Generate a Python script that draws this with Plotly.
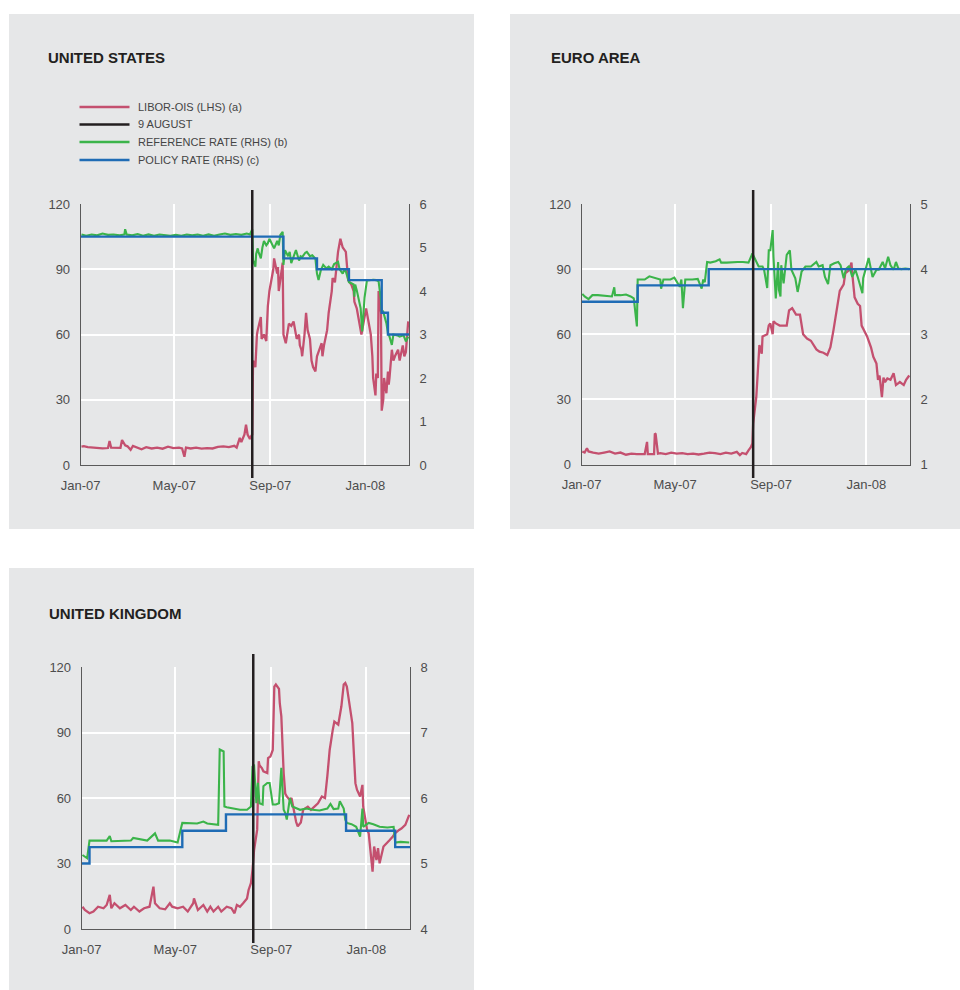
import plotly.graph_objects as go

# ---------------- DATA ----------------
tick_vals = ["2007-01-01", "2007-05-01", "2007-09-01", "2008-01-01"]
tick_text = ["Jan-07", "May-07", "Sep-07", "Jan-08"]
x_start, x_end = "2007-01-01", "2008-02-26"
aug9 = "2007-08-09"

# United States
us_libor_dates = [
    "2007-01-02", "2007-01-05", "2007-01-10", "2007-01-16", "2007-01-22", "2007-01-29", "2007-02-05", "2007-02-07", "2007-02-09", "2007-02-15",
    "2007-02-21", "2007-02-23", "2007-02-27", "2007-03-02", "2007-03-06", "2007-03-09", "2007-03-14", "2007-03-20", "2007-03-26", "2007-04-02",
    "2007-04-09", "2007-04-16", "2007-04-23", "2007-04-30", "2007-05-07", "2007-05-11", "2007-05-14", "2007-05-16", "2007-05-22", "2007-05-29",
    "2007-06-05", "2007-06-12", "2007-06-19", "2007-06-26", "2007-07-03", "2007-07-10", "2007-07-17", "2007-07-20", "2007-07-24", "2007-07-26",
    "2007-07-30", "2007-08-01", "2007-08-03", "2007-08-06", "2007-08-08", "2007-08-09", "2007-08-10", "2007-08-13", "2007-08-15", "2007-08-16",
    "2007-08-20", "2007-08-21", "2007-08-24", "2007-08-27", "2007-08-29", "2007-08-31", "2007-09-05", "2007-09-06", "2007-09-10", "2007-09-11",
    "2007-09-12", "2007-09-14", "2007-09-17", "2007-09-18", "2007-09-20", "2007-09-21", "2007-09-25", "2007-09-28", "2007-10-01", "2007-10-05",
    "2007-10-08", "2007-10-09", "2007-10-11", "2007-10-12", "2007-10-15", "2007-10-17", "2007-10-19", "2007-10-22", "2007-10-24", "2007-10-26",
    "2007-10-29", "2007-10-31", "2007-11-02", "2007-11-06", "2007-11-07", "2007-11-09", "2007-11-13", "2007-11-15", "2007-11-19", "2007-11-20",
    "2007-11-23", "2007-11-27", "2007-11-30", "2007-12-03", "2007-12-05", "2007-12-07", "2007-12-10", "2007-12-14", "2007-12-17", "2007-12-18",
    "2007-12-21", "2007-12-24", "2007-12-27", "2008-01-02", "2008-01-04", "2008-01-08", "2008-01-10", "2008-01-11", "2008-01-14", "2008-01-15",
    "2008-01-17", "2008-01-18", "2008-01-21", "2008-01-22", "2008-01-24", "2008-01-25", "2008-01-28", "2008-01-30", "2008-01-31", "2008-02-01",
    "2008-02-04", "2008-02-06", "2008-02-08", "2008-02-12", "2008-02-14", "2008-02-18", "2008-02-20", "2008-02-22", "2008-02-25",
]
us_libor_bp = [
    8.5, 8.7, 8.2, 8.0, 7.8, 7.6, 7.8, 11.0, 8.0, 7.8,
    7.9, 11.5, 9.0, 8.6, 7.0, 8.8, 8.2, 7.2, 8.2, 7.6,
    8.0, 7.5, 8.4, 7.8, 8.0, 7.6, 3.8, 8.0, 7.6, 8.0,
    7.5, 7.8, 7.6, 8.3, 8.6, 8.2, 8.8, 8.0, 12.5, 10.5,
    14.0, 18.5, 14.0, 12.0, 13.5, 14.0, 48.0, 45.0, 60.0, 62.0,
    68, 58, 60, 57, 73, 80, 90, 95, 88, 91,
    80, 85, 93, 60, 58, 56, 65, 64, 66, 58,
    60, 55, 53, 50, 60, 70, 62, 58, 48, 45,
    43, 50, 52, 56, 50, 55, 62, 70, 80, 86,
    84, 98, 104, 100, 99, 98, 85, 83, 80, 75,
    72, 65, 60, 72, 68, 60, 50, 40, 32, 42,
    40, 80, 70, 25, 30, 40, 33, 43, 37, 40,
    53, 48, 50, 53, 48, 55, 50, 52, 66,
]
us_ref_dates = [
    "2007-01-02", "2007-01-08", "2007-01-15", "2007-01-22", "2007-01-29", "2007-02-05", "2007-02-12", "2007-02-20", "2007-02-26", "2007-02-27",
    "2007-03-01", "2007-03-08", "2007-03-15", "2007-03-22", "2007-03-29", "2007-04-05", "2007-04-12", "2007-04-19", "2007-04-26", "2007-05-03",
    "2007-05-10", "2007-05-17", "2007-05-24", "2007-05-31", "2007-06-07", "2007-06-14", "2007-06-21", "2007-06-28", "2007-07-05", "2007-07-12",
    "2007-07-19", "2007-07-26", "2007-08-02", "2007-08-06", "2007-08-08", "2007-08-09", "2007-08-10", "2007-08-13", "2007-08-14", "2007-08-16",
    "2007-08-17", "2007-08-20", "2007-08-22", "2007-08-24", "2007-08-27", "2007-08-29", "2007-08-31", "2007-09-04", "2007-09-06", "2007-09-10",
    "2007-09-12", "2007-09-14", "2007-09-17", "2007-09-18", "2007-09-20", "2007-09-24", "2007-09-26", "2007-09-28", "2007-10-02", "2007-10-04",
    "2007-10-08", "2007-10-10", "2007-10-12", "2007-10-16", "2007-10-18", "2007-10-22", "2007-10-25", "2007-10-29", "2007-10-31", "2007-11-02",
    "2007-11-05", "2007-11-08", "2007-11-12", "2007-11-15", "2007-11-19", "2007-11-22", "2007-11-27", "2007-11-29", "2007-12-03", "2007-12-05",
    "2007-12-07", "2007-12-11", "2007-12-14", "2007-12-17", "2007-12-18", "2007-12-19", "2007-12-21", "2007-12-26", "2007-12-28", "2007-12-31",
    "2008-01-03", "2008-01-08", "2008-01-11", "2008-01-15", "2008-01-18", "2008-01-21", "2008-01-22", "2008-01-24", "2008-01-28", "2008-01-30",
    "2008-02-01", "2008-02-04", "2008-02-06", "2008-02-11", "2008-02-14", "2008-02-19", "2008-02-21", "2008-02-22", "2008-02-25",
]
us_ref_pct = [
    5.30, 5.27, 5.30, 5.28, 5.32, 5.29, 5.30, 5.28, 5.30, 5.42,
    5.30, 5.28, 5.31, 5.27, 5.30, 5.27, 5.30, 5.29, 5.27, 5.29,
    5.27, 5.30, 5.28, 5.30, 5.27, 5.30, 5.27, 5.30, 5.32, 5.29,
    5.31, 5.29, 5.32, 5.30, 5.36, 5.42, 4.71, 4.56, 4.85, 4.98,
    4.90, 4.75, 5.00, 5.15, 5.05, 5.10, 5.20, 5.05, 4.98, 5.15,
    5.05, 5.29, 5.36, 4.60, 4.94, 4.80, 4.90, 4.64, 4.85, 4.94,
    4.70, 4.80, 4.78, 4.88, 4.90, 4.80, 4.82, 4.74, 4.40, 4.25,
    4.48, 4.60, 4.52, 4.56, 4.50, 4.62, 4.67, 4.50, 4.40, 4.48,
    4.45, 4.20, 4.18, 4.15, 3.87, 4.15, 4.02, 3.60, 3.07, 3.85,
    4.24, 4.25, 4.26, 4.25, 4.22, 3.80, 3.49, 3.52, 3.26, 3.03,
    2.95, 2.76, 3.00, 2.98, 2.95, 2.98, 2.91, 2.84, 2.95,
]
us_policy_dates = ["2007-01-01", "2007-09-18", "2007-10-31", "2007-12-11", "2008-01-22", "2008-01-30", "2008-02-26"]
us_policy_pct = [5.25, 4.75, 4.50, 4.25, 3.50, 3.00, 3.00]

# Euro area
ea_libor_dates = [
    "2007-01-02", "2007-01-05", "2007-01-08", "2007-01-10", "2007-01-16", "2007-01-23", "2007-01-30", "2007-02-06", "2007-02-13", "2007-02-20",
    "2007-02-27", "2007-03-06", "2007-03-13", "2007-03-20", "2007-03-23", "2007-03-26", "2007-03-27", "2007-04-04", "2007-04-05", "2007-04-06",
    "2007-04-09", "2007-04-12", "2007-04-19", "2007-04-26", "2007-05-03", "2007-05-10", "2007-05-17", "2007-05-24", "2007-05-31", "2007-06-07",
    "2007-06-14", "2007-06-21", "2007-06-28", "2007-07-05", "2007-07-12", "2007-07-19", "2007-07-23", "2007-07-26", "2007-07-31", "2007-08-03",
    "2007-08-06", "2007-08-08", "2007-08-09", "2007-08-13", "2007-08-16", "2007-08-17", "2007-08-20", "2007-08-21", "2007-08-27", "2007-08-29",
    "2007-08-31", "2007-09-03", "2007-09-04", "2007-09-07", "2007-09-12", "2007-09-21", "2007-09-24", "2007-09-28", "2007-10-03", "2007-10-08",
    "2007-10-12", "2007-10-17", "2007-10-22", "2007-10-25", "2007-10-29", "2007-11-02", "2007-11-07", "2007-11-12", "2007-11-16", "2007-11-20",
    "2007-11-23", "2007-11-28", "2007-12-03", "2007-12-05", "2007-12-10", "2007-12-13", "2007-12-14", "2007-12-17", "2007-12-21", "2007-12-24",
    "2007-12-26", "2008-01-02", "2008-01-07", "2008-01-10", "2008-01-14", "2008-01-16", "2008-01-18", "2008-01-21", "2008-01-23", "2008-01-25",
    "2008-01-28", "2008-02-01", "2008-02-05", "2008-02-08", "2008-02-13", "2008-02-18", "2008-02-21", "2008-02-25",
]
ea_libor_bp = [
    6.0, 5.5, 7.5, 6.0, 5.5, 5.0, 5.5, 6.0, 5.0, 5.5,
    4.5, 5.0, 4.8, 5.0, 4.8, 10.4, 4.8, 4.8, 14.3, 14.0,
    5.0, 5.2, 4.8, 5.5, 5.0, 5.2, 4.8, 5.0, 4.6, 5.0,
    5.5, 5.2, 4.8, 5.5, 5.0, 5.8, 4.3, 5.3, 4.8, 6.5,
    8.0, 9.7, 19.0, 31.0, 54.0, 55.0, 51.0, 59.0, 60.0, 64.0,
    65.0, 60.0, 66.0, 65.0, 64.0, 64.0, 71.0, 72.0, 69.0, 69.0,
    60.0, 58.0, 57.0, 55.0, 53.0, 52.0, 51.5, 50.4, 54.0, 62.0,
    69.6, 80.0, 83.0, 88.0, 89.5, 93.0, 88.0, 77.0, 74.0, 73.0,
    64.0, 59.0, 54.0, 49.6, 46.5, 39.0, 41.0, 31.0, 40.0, 38.0,
    39.6, 39.0, 42.0, 36.6, 38.0, 36.6, 39.0, 41.0,
]
ea_ref_dates = [
    "2007-01-02", "2007-01-05", "2007-01-10", "2007-01-15", "2007-01-22", "2007-01-29", "2007-02-05", "2007-02-09", "2007-02-12", "2007-02-13",
    "2007-02-20", "2007-02-27", "2007-03-05", "2007-03-09", "2007-03-13", "2007-03-14", "2007-03-16", "2007-03-23", "2007-03-29", "2007-04-05",
    "2007-04-12", "2007-04-13", "2007-04-16", "2007-04-25", "2007-04-30", "2007-05-07", "2007-05-09", "2007-05-11", "2007-05-14", "2007-05-23",
    "2007-05-30", "2007-06-04", "2007-06-06", "2007-06-08", "2007-06-11", "2007-06-15", "2007-06-22", "2007-06-27", "2007-06-29", "2007-07-06",
    "2007-07-13", "2007-07-20", "2007-07-27", "2007-08-03", "2007-08-08", "2007-08-13", "2007-08-16", "2007-08-21", "2007-08-23", "2007-08-27",
    "2007-08-29", "2007-08-31", "2007-09-03", "2007-09-04", "2007-09-07", "2007-09-10", "2007-09-11", "2007-09-13", "2007-09-14", "2007-09-17",
    "2007-09-21", "2007-09-25", "2007-09-27", "2007-10-02", "2007-10-05", "2007-10-08", "2007-10-10", "2007-10-15", "2007-10-22", "2007-10-29",
    "2007-11-01", "2007-11-06", "2007-11-09", "2007-11-13", "2007-11-16", "2007-11-21", "2007-11-26", "2007-11-29", "2007-12-03", "2007-12-06",
    "2007-12-10", "2007-12-14", "2007-12-18", "2007-12-21", "2007-12-27", "2007-12-28", "2007-12-31", "2008-01-04", "2008-01-09", "2008-01-14",
    "2008-01-17", "2008-01-22", "2008-01-25", "2008-01-29", "2008-02-01", "2008-02-05", "2008-02-08", "2008-02-11", "2008-02-15", "2008-02-20",
    "2008-02-25",
]
ea_ref_pct = [
    3.62, 3.58, 3.54, 3.60, 3.60, 3.59, 3.58, 3.58, 3.72, 3.60,
    3.60, 3.61, 3.58, 3.55, 3.12, 3.84, 3.84, 3.84, 3.89, 3.86,
    3.84, 3.70, 3.84, 3.84, 3.87, 3.73, 3.84, 3.40, 3.84, 3.84,
    3.85, 3.70, 3.84, 3.80, 4.11, 4.10, 4.12, 4.15, 4.10, 4.10,
    4.11, 4.11, 4.11, 4.10, 4.24, 4.12, 4.04, 4.04, 3.99, 3.71,
    4.29, 4.29, 4.60, 4.19, 3.55, 4.11, 3.68, 3.58, 4.06, 3.78,
    4.22, 4.29, 3.99, 3.86, 3.65, 3.83, 3.96, 4.04, 4.04, 4.11,
    4.04, 4.06, 3.88, 3.77, 4.06, 4.09, 4.11, 4.06, 3.86, 4.00,
    4.05, 3.88, 3.99, 3.88, 3.63, 3.86, 3.99, 4.17, 3.88, 3.99,
    3.99, 4.11, 4.01, 4.19, 4.06, 3.99, 4.11, 4.01, 4.00, 4.01,
    4.00,
]
ea_policy_dates = ["2007-01-01", "2007-03-14", "2007-06-13", "2008-02-26"]
ea_policy_pct = [3.50, 3.75, 4.00, 4.00]

# United Kingdom
uk_libor_dates = [
    "2007-01-02", "2007-01-05", "2007-01-11", "2007-01-16", "2007-01-22", "2007-01-29", "2007-02-02", "2007-02-06", "2007-02-08", "2007-02-12",
    "2007-02-19", "2007-02-26", "2007-03-05", "2007-03-09", "2007-03-16", "2007-03-22", "2007-03-29", "2007-04-03", "2007-04-05", "2007-04-11",
    "2007-04-18", "2007-04-24", "2007-04-27", "2007-05-04", "2007-05-11", "2007-05-17", "2007-05-24", "2007-05-25", "2007-05-30", "2007-06-06",
    "2007-06-11", "2007-06-15", "2007-06-19", "2007-06-25", "2007-06-29", "2007-07-06", "2007-07-12", "2007-07-16", "2007-07-19", "2007-07-23",
    "2007-07-27", "2007-08-01", "2007-08-03", "2007-08-06", "2007-08-08", "2007-08-10", "2007-08-14", "2007-08-15", "2007-08-16", "2007-08-17",
    "2007-08-20", "2007-08-22", "2007-08-27", "2007-08-28", "2007-08-31", "2007-09-03", "2007-09-04", "2007-09-05", "2007-09-07", "2007-09-11",
    "2007-09-12", "2007-09-14", "2007-09-17", "2007-09-19", "2007-09-21", "2007-09-25", "2007-09-27", "2007-10-01", "2007-10-03", "2007-10-05",
    "2007-10-09", "2007-10-12", "2007-10-18", "2007-10-22", "2007-10-26", "2007-10-31", "2007-11-05", "2007-11-09", "2007-11-12", "2007-11-13",
    "2007-11-15", "2007-11-19", "2007-11-21", "2007-11-26", "2007-11-28", "2007-11-30", "2007-12-03", "2007-12-05", "2007-12-07", "2007-12-11",
    "2007-12-14", "2007-12-18", "2007-12-20", "2007-12-24", "2007-12-27", "2007-12-28", "2008-01-02", "2008-01-04", "2008-01-07", "2008-01-09",
    "2008-01-11", "2008-01-14", "2008-01-16", "2008-01-18", "2008-01-23", "2008-01-28", "2008-01-31", "2008-02-04", "2008-02-07", "2008-02-12",
    "2008-02-15", "2008-02-20", "2008-02-22", "2008-02-25",
]
uk_libor_bp = [
    10.2, 8.7, 7.2, 8.0, 10.2, 9.5, 11.0, 15.6, 9.5, 11.8,
    9.5, 11.0, 8.7, 10.2, 8.0, 9.5, 10.2, 19.4, 11.8, 9.5,
    9.0, 11.8, 10.2, 9.5, 10.2, 8.0, 11.8, 14.0, 8.7, 11.0,
    8.0, 10.2, 8.0, 10.2, 8.0, 10.2, 9.5, 7.2, 11.0, 10.2,
    11.8, 14.0, 17.9, 21.0, 27.0, 36.0, 45.4, 57.6, 76.8, 75.0,
    73.7, 72.2, 71.4, 78.3, 79.0, 82.0, 103.5, 111.0, 112.0, 110.0,
    103.5, 97.4, 71.4, 62.0, 60.7, 59.0, 60.0, 51.5, 49.0, 47.0,
    48.8, 54.6, 56.0, 54.6, 56.0, 57.6, 60.7, 60.0, 70.0, 74.5,
    82.0, 91.3, 95.0, 93.6, 98.0, 102.0, 112.0, 112.7, 111.0, 101.0,
    94.3, 66.8, 63.8, 60.7, 66.0, 56.0, 45.4, 43.9, 34.7, 26.3,
    37.8, 31.6, 37.0, 30.1, 37.8, 40.0, 40.8, 42.4, 43.9, 45.4,
    46.0, 47.7, 50.0, 52.3,
]
uk_ref_dates = [
    "2007-01-02", "2007-01-08", "2007-01-11", "2007-01-18", "2007-02-02", "2007-02-06", "2007-02-08", "2007-03-05", "2007-03-08", "2007-03-26",
    "2007-04-05", "2007-04-09", "2007-04-24", "2007-05-04", "2007-05-10", "2007-05-29", "2007-06-06", "2007-06-11", "2007-06-25", "2007-06-27",
    "2007-07-02", "2007-07-03", "2007-07-06", "2007-07-23", "2007-08-01", "2007-08-06", "2007-08-08", "2007-08-10", "2007-08-13", "2007-08-15",
    "2007-08-17", "2007-08-21", "2007-08-22", "2007-08-27", "2007-08-30", "2007-09-03", "2007-09-07", "2007-09-11", "2007-09-14", "2007-09-17",
    "2007-09-19", "2007-09-21", "2007-09-25", "2007-09-28", "2007-10-08", "2007-10-16", "2007-10-24", "2007-11-02", "2007-11-12", "2007-11-16",
    "2007-11-20", "2007-11-26", "2007-11-28", "2007-12-03", "2007-12-05", "2007-12-07", "2007-12-13", "2007-12-19", "2007-12-24", "2007-12-27",
    "2007-12-28", "2008-01-04", "2008-01-10", "2008-01-18", "2008-01-28", "2008-02-05", "2008-02-07", "2008-02-14", "2008-02-21", "2008-02-25",
]
uk_ref_pct = [
    5.13, 5.08, 5.35, 5.35, 5.35, 5.42, 5.34, 5.35, 5.39, 5.35,
    5.46, 5.35, 5.35, 5.32, 5.62, 5.61, 5.64, 5.61, 5.59, 6.74,
    6.71, 5.87, 5.86, 5.82, 5.82, 5.87, 6.48, 6.51, 5.92, 6.23,
    5.92, 5.90, 6.18, 6.23, 6.23, 5.90, 5.90, 5.92, 6.46, 5.82,
    5.77, 5.67, 6.00, 5.87, 5.82, 5.84, 5.82, 5.81, 5.84, 5.91,
    5.83, 5.84, 5.95, 5.84, 5.67, 5.62, 5.60, 5.56, 5.41, 5.84,
    5.56, 5.62, 5.60, 5.56, 5.55, 5.56, 5.32, 5.33, 5.32, 5.32,
]
uk_policy_dates = ["2007-01-01", "2007-01-11", "2007-05-10", "2007-07-05", "2007-12-06", "2008-02-07", "2008-02-26"]
uk_policy_pct = [5.00, 5.25, 5.50, 5.75, 5.50, 5.25, 5.25]

left_ticks = [0, 30, 60, 90, 120]
legend_labels = ["LIBOR-OIS (LHS) (a)", "9 AUGUST", "REFERENCE RATE (RHS) (b)", "POLICY RATE (RHS) (c)"]

# ---------------- STYLE ----------------
W, H = 960, 990
FONT = "Liberation Sans, Arial, Helvetica, sans-serif"
BG = "#e6e7e8"
PINK = "#c4506f"
BLACK = "#231f20"
GREEN = "#3bb44a"
BLUE = "#1f6cb5"
TICK = "#4d4d4d"
AXIS = "#5a5a5a"


def px(x):
    return x / W


def py(y):
    return 1 - y / H


panels = [
    dict(title="UNITED STATES", bg=(9, 14, 474, 529), plot=(80.7, 204, 409, 465), title_xy=(45.5, 57),
         vline=(190, 478), rrange=[0, 6], rticks=[0, 1, 2, 3, 4, 5, 6],
         libor=(us_libor_dates, us_libor_bp), ref=(us_ref_dates, us_ref_pct), pol=(us_policy_dates, us_policy_pct)),
    dict(title="EURO AREA", bg=(510, 14, 960, 529), plot=(581.5, 204, 910, 464.5), title_xy=(548.5, 57),
         vline=(190, 478), rrange=[1, 5], rticks=[1, 2, 3, 4, 5],
         libor=(ea_libor_dates, ea_libor_bp), ref=(ea_ref_dates, ea_ref_pct), pol=(ea_policy_dates, ea_policy_pct)),
    dict(title="UNITED KINGDOM", bg=(9, 568, 474, 990), plot=(81.7, 667, 410, 929), title_xy=(46.5, 613),
         vline=(654, 943), rrange=[4, 8], rticks=[4, 5, 6, 7, 8],
         libor=(uk_libor_dates, uk_libor_bp), ref=(uk_ref_dates, uk_ref_pct), pol=(uk_policy_dates, uk_policy_pct)),
]

fig = go.Figure()
shapes = []
annotations = []
layout_axes = {}

for i, p in enumerate(panels):
    xn = "" if i == 0 else str(i + 1)
    yl = "" if i == 0 else str(2 * i + 1)
    yr = str(2 * i + 2)
    xref, ylref, yrref = "x" + xn, "y" + yl, "y" + yr

    x0, y0, x1, y1 = p["bg"]
    shapes.append(dict(type="rect", xref="paper", yref="paper", x0=px(x0), x1=px(x1), y0=py(y1), y1=py(y0),
                       fillcolor=BG, line=dict(width=0), layer="below"))
    annotations.append(dict(text=p["title"], xref="paper", yref="paper", x=px(p["title_xy"][0]), y=py(p["title_xy"][1]),
                            xanchor="left", yanchor="middle", showarrow=False,
                            font=dict(family=FONT, size=15, color=BLACK, weight="bold")))

    fig.add_trace(go.Scatter(x=p["libor"][0], y=p["libor"][1], mode="lines", xaxis=xref, yaxis=ylref,
                             line=dict(color=PINK, width=2.3), name=legend_labels[0], showlegend=False))
    fig.add_trace(go.Scatter(x=p["ref"][0], y=p["ref"][1], mode="lines", xaxis=xref, yaxis=yrref,
                             line=dict(color=GREEN, width=2.1), name=legend_labels[2], showlegend=False))
    fig.add_trace(go.Scatter(x=p["pol"][0], y=p["pol"][1], mode="lines", xaxis=xref, yaxis=yrref,
                             line=dict(color=BLUE, width=2.4, shape="hv"), name=legend_labels[3], showlegend=False))

    pl, pt, pr, pb = p["plot"]
    tickfont = dict(family=FONT, size=13, color=TICK)
    layout_axes["xaxis" + xn] = dict(domain=[px(pl), px(pr)], range=[x_start, x_end], type="date",
                                     tickvals=tick_vals, ticktext=tick_text, tickfont=tickfont,
                                     showgrid=True, gridcolor="white", gridwidth=2, zeroline=False,
                                     showline=True, linecolor=AXIS, linewidth=1, automargin=False,
                                     ticks="outside", ticklen=8, tickcolor="rgba(0,0,0,0)",
                                     anchor=ylref, fixedrange=True)
    layout_axes["yaxis" + yl] = dict(domain=[py(pb), py(pt)], range=[0, 120], tickvals=left_ticks,
                                     tickfont=tickfont, showgrid=True, gridcolor="white", gridwidth=2,
                                     zeroline=False, showline=True, linecolor=AXIS, linewidth=1, automargin=False,
                                     ticks="outside", ticklen=7, tickcolor="rgba(0,0,0,0)",
                                     anchor=xref, side="left", fixedrange=True)
    layout_axes["yaxis" + yr] = dict(range=p["rrange"], tickvals=p["rticks"], tickfont=tickfont,
                                     showgrid=False, zeroline=False, showline=True, linecolor=AXIS, linewidth=1,
                                     automargin=False, ticks="outside", ticklen=7, tickcolor="rgba(0,0,0,0)",
                                     overlaying=ylref, anchor=xref, side="right", fixedrange=True)

    shapes.append(dict(type="line", xref=xref, yref="paper", x0=aug9, x1=aug9,
                       y0=py(p["vline"][1]), y1=py(p["vline"][0]), line=dict(color=BLACK, width=2.5), layer="above"))

# custom legend (United States panel)
leg_colors = [PINK, BLACK, GREEN, BLUE]
leg_y = [107, 124.5, 142, 160]
for lab, col, yy in zip(legend_labels, leg_colors, leg_y):
    shapes.append(dict(type="line", xref="paper", yref="paper", x0=px(79.5), x1=px(129.5), y0=py(yy), y1=py(yy),
                       line=dict(color=col, width=2.5)))
    annotations.append(dict(text=lab, xref="paper", yref="paper", x=px(136), y=py(yy), xanchor="left",
                            yanchor="middle", showarrow=False, font=dict(family=FONT, size=11, color="#444444")))

fig.update_layout(width=W, height=H, margin=dict(l=0, r=0, t=0, b=0, autoexpand=False), paper_bgcolor="white",
                  plot_bgcolor=BG, showlegend=False, shapes=shapes, annotations=annotations,
                  font=dict(family=FONT), **layout_axes)

fig.write_html("out.html", config={"displayModeBar": False})
